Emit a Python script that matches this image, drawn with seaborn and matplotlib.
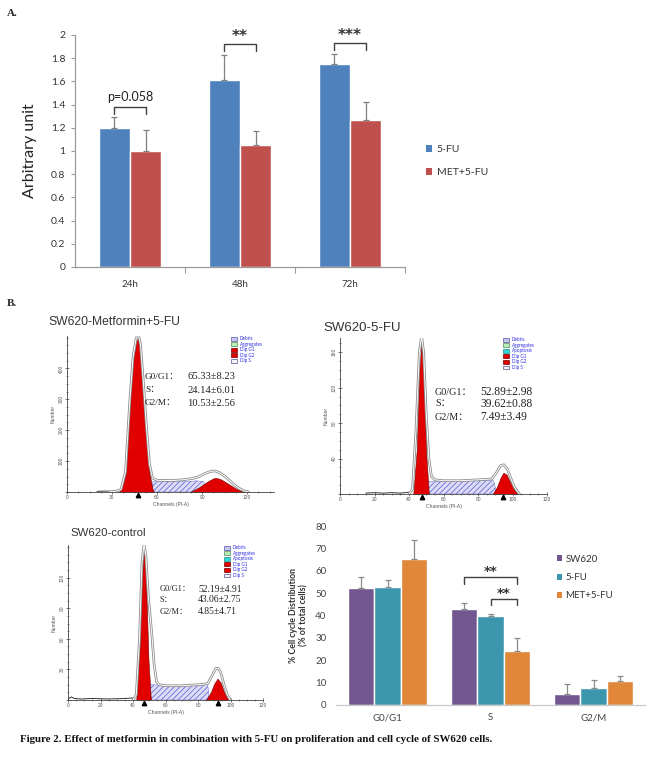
import numpy as np
import pandas as pd
import matplotlib
matplotlib.use("Agg")
import matplotlib.pyplot as plt
import matplotlib.transforms as mtransforms
from matplotlib.patches import Patch
from matplotlib.ticker import AutoMinorLocator, FixedLocator
import seaborn as sns

# ---------------- Panel A data ----------------
a_times = ["24h", "48h", "72h"]
a_groups = ["5-FU", "MET+5-FU"]
a_5fu = [1.20, 1.61, 1.75]
a_5fu_err = [0.09, 0.22, 0.09]
a_met = [1.00, 1.05, 1.27]
a_met_err = [0.18, 0.12, 0.15]
a_sig = ["p=0.058", "**", "***"]
a_yticks = [0, 0.2, 0.4, 0.6, 0.8, 1, 1.2, 1.4, 1.6, 1.8, 2]
a_yticklabels = ["0", "0.2", "0.4", "0.6", "0.8", "1", "1.2", "1.4", "1.6", "1.8", "2"]

# ---------------- Panel B bar data ----------------
b_phases = ["G0/G1", "S", "G2/M"]
b_groups = ["SW620", "5-FU", "MET+5-FU"]
b_sw620 = [52.19, 43.06, 4.85]
b_sw620_err = [4.91, 2.75, 4.71]
b_5fu = [52.89, 39.62, 7.49]
b_5fu_err = [2.98, 0.88, 3.49]
b_met = [65.33, 24.14, 10.53]
b_met_err = [8.23, 6.01, 2.56]
b_sig = ["**", "**"]
b_sig_pairs = [(0, 2), (1, 2)]
b_sig_levels = [57.0, 47.4]

# ---------------- Histogram data (channel, count) ----------------
# SW620-Metformin+5-FU
h1_tot_ch = [28, 33, 36, 39, 42, 44, 46, 47.5, 49, 51, 53, 55, 57, 60, 70, 78, 84, 88, 92, 96, 99, 102, 106, 110, 114, 118, 121]
h1_tot_n = [0, 3, 8, 65, 305, 435, 495, 512, 478, 350, 210, 90, 45, 38, 37, 40, 44, 50, 60, 67, 68, 62, 48, 30, 14, 4, 0]
h1_g1_ch = [35, 39, 42, 44, 46, 47.5, 49, 51, 53, 55, 57, 58]
h1_g1_n = [0, 55, 295, 425, 485, 500, 465, 330, 185, 60, 10, 0]
h1_s_ch = [56, 57, 70, 80, 86, 91, 93]
h1_s_n = [0, 33, 33, 34, 36, 34, 0]
h1_g2_ch = [82, 88, 94, 98, 100, 103, 108, 113, 118]
h1_g2_n = [0, 15, 35, 45, 45, 40, 25, 10, 0]
h1_base_ch = [20, 25, 30, 35]
h1_base_n = [2, 3, 2, 4]
h1_marks = [47.5]
h1_stats = ["65.33±8.23", "24.14±6.01", "10.53±2.56"]
h1_xticks = [0, 30, 60, 90, 120]
h1_yticks = [0, 100, 200, 300, 400]

# SW620-5-FU
h2_tot_ch = [40, 42, 44, 46, 47.3, 48.5, 50, 51.5, 53, 55, 60, 70, 80, 88, 91, 93, 95, 97, 99, 101, 104]
h2_tot_n = [0, 5, 70, 160, 178, 160, 90, 40, 20, 16, 15, 15, 16, 17, 25, 32, 33, 28, 18, 8, 0]
h2_g1_ch = [42.5, 44.5, 46, 47.3, 48.5, 50, 51.5]
h2_g1_n = [0, 50, 140, 173, 140, 45, 0]
h2_s_ch = [50, 51, 60, 70, 80, 89, 91]
h2_s_n = [0, 14, 14, 15, 15, 15, 0]
h2_g2_ch = [88.5, 91, 93, 94.7, 96.5, 98.5, 101, 103]
h2_g2_n = [0, 8, 18, 24, 22, 14, 5, 0]
h2_base_ch = [15, 20, 25, 30, 35, 40]
h2_base_n = [1, 1.5, 1, 1.5, 1, 2]
h2_marks = [47.3, 94.7]
h2_stats = ["52.89±2.98", "39.62±0.88", "7.49±3.49"]
h2_xticks = [0, 20, 40, 60, 80, 100, 120]
h2_yticks = [0, 40, 80, 120, 160]

# SW620-control
h3_tot_ch = [40, 42, 44, 45.5, 46.8, 48, 49.5, 51.5, 53, 54.5, 56, 60, 70, 80, 86, 89, 91, 92.5, 94, 96, 98, 100]
h3_tot_n = [0, 5, 60, 135, 153, 140, 100, 66, 35, 18, 15, 14, 14, 15, 16, 25, 31, 31, 27, 15, 5, 0]
h3_g1_ch = [42, 44, 45.5, 46.8, 48, 49.5, 51]
h3_g1_n = [0, 50, 120, 150, 120, 40, 0]
h3_s_ch = [48.5, 49.5, 60, 70, 80, 86, 87]
h3_s_n = [0, 15, 14.5, 14.5, 15, 15, 0]
h3_g2_ch = [85, 88, 90, 92, 94, 96, 98.6]
h3_g2_n = [0, 8, 16, 21, 17, 8, 0]
h3_base_ch = [0, 2, 4, 8, 15, 25, 35, 40]
h3_base_n = [1, 3, 1.5, 1, 1.5, 1, 1.5, 2]
h3_marks = [46.8, 92]
h3_stats = ["52.19±4.91", "43.06±2.75", "4.85±4.71"]
h3_xticks = [0, 20, 40, 60, 80, 100, 120]
h3_yticks = [0, 30, 60, 90, 120]

phase_labels = ["G0/G1：", "S：", "G2/M："]
legend_items_1 = ["Debris", "Aggregates", "Dip G1", "Dip G2", "Dip S"]
legend_items_2 = ["Debris", "Aggregates", "Apoptosis", "Dip G1", "Dip G2", "Dip S"]

# ---------------- Style ----------------
sns.set_style("white")
plt.rcParams["font.family"] = ["Lato", "DejaVu Sans"]
plt.rcParams["hatch.linewidth"] = 0.5

W, H = 653, 760
fig = plt.figure(figsize=(W / 100, H / 100), dpi=100)
fig.patch.set_facecolor("white")


def add_ax(l, t, r, b):
    return fig.add_axes([l / W, 1 - b / H, (r - l) / W, (b - t) / H])


def fx(x):
    return x / W


def fy(y):
    return 1 - y / H


SERIF = ["Liberation Serif", "Noto Sans CJK SC", "DejaVu Serif"]
ARIAL = ["Liberation Sans", "DejaVu Sans"]
STAR = ["DejaVu Sans"]

# ================= Panel A =================
colA = {"5-FU": "#4F81BD", "MET+5-FU": "#C0504D"}
dfA = pd.DataFrame({
    "time": a_times * 2,
    "group": [a_groups[0]] * 3 + [a_groups[1]] * 3,
    "value": a_5fu + a_met,
})
axA = add_ax(75, 35, 405, 267)
sns.barplot(data=dfA, x="time", y="value", hue="group", hue_order=a_groups,
            palette=colA, width=0.57, errorbar=None, saturation=1,
            legend=False, ax=axA)
errsA = [a_5fu_err, a_met_err]
valsA = [a_5fu, a_met]
barsA = [list(c) for c in axA.containers]
centersA = []
for ci, cont in enumerate(barsA):
    cs = []
    for i, bar in enumerate(cont):
        xc = bar.get_x() + bar.get_width() / 2
        cs.append(xc)
        axA.errorbar(xc, bar.get_height(), yerr=[[0], [errsA[ci][i]]], fmt="none",
                     ecolor="#7f7f7f", elinewidth=0.9, capsize=2.5, capthick=0.9)
    centersA.append(cs)
axA.set_ylim(0, 2)
axA.set_xlim(-0.5, 2.5)
axA.set_yticks(a_yticks)
axA.set_yticklabels(a_yticklabels)
axA.set_xlabel("")
axA.set_ylabel("Arbitrary unit", fontsize=11.5, color="#222222", labelpad=10)
for s in ["top", "right"]:
    axA.spines[s].set_visible(False)
for s in ["left", "bottom"]:
    axA.spines[s].set_color("#9a9a9a")
    axA.spines[s].set_linewidth(0.9)
axA.tick_params(axis="y", which="major", left=True, length=3, width=0.8, color="#9a9a9a",
                labelsize=7.5, labelcolor="#333333", pad=4)
axA.tick_params(axis="x", which="major", bottom=False, labelsize=7, labelcolor="#333333", pad=6)
axA.xaxis.set_minor_locator(FixedLocator([0.5, 1.5, 2.5]))
axA.tick_params(axis="x", which="minor", bottom=True, length=4, width=0.8, color="#9a9a9a")
for i in range(3):
    x1, x2 = centersA[0][i], centersA[1][i]
    top = max(valsA[0][i] + errsA[0][i], valsA[1][i] + errsA[1][i]) + 0.09
    axA.plot([x1, x1, x2, x2], [top - 0.06, top, top, top - 0.06], color="#404040",
             lw=1.0, clip_on=False)
    if a_sig[i].startswith("p"):
        axA.text((x1 + x2) / 2, top + 0.035, a_sig[i], ha="center", va="bottom",
                 fontsize=9, color="#222222", clip_on=False)
    else:
        axA.text((x1 + x2) / 2, top + 0.0, a_sig[i], ha="center", va="bottom",
                 fontsize=11, fontweight="bold", family=STAR, color="#333333", clip_on=False)
handlesA = [Patch(facecolor=colA[g], edgecolor="none") for g in a_groups]
fig.legend(handlesA, a_groups, loc="upper left", bbox_to_anchor=(fx(421), fy(140)),
           frameon=False, fontsize=7.5, handlelength=0.6, handleheight=0.6,
           handletextpad=0.4, labelspacing=1.35, borderpad=0, labelcolor="#333333")

fig.text(fx(7), fy(13), "A.", fontsize=8, family=SERIF, fontweight="bold", va="center")
fig.text(fx(7), fy(303), "B.", fontsize=8, family=SERIF, fontweight="bold", va="center")


# ================= Histograms =================
def draw_hist(box, tot_ch, tot_n, g1_ch, g1_n, s_ch, s_n, g2_ch, g2_n, base_ch, base_n,
              marks, xlim, ylim, xticks, yticks):
    ax = add_ax(*box)
    ax.fill_between(s_ch, s_n, facecolor="#dcdcf6", edgecolor="#5a5ad2", hatch="//////",
                    linewidth=0.3)
    ax.fill_between(g1_ch, g1_n, facecolor="#e10000", edgecolor="#700000", linewidth=0.4)
    ax.fill_between(g2_ch, g2_n, facecolor="#e10000", edgecolor="#700000", linewidth=0.4)
    sns.lineplot(x=base_ch, y=base_n, color="#333333", lw=0.7, ax=ax, sort=False)
    sns.lineplot(x=tot_ch, y=tot_n, color="#8c8c8c", lw=1.9, ax=ax, sort=False)
    sns.lineplot(x=tot_ch, y=tot_n, color="white", lw=0.7, ax=ax, sort=False)
    trans = mtransforms.blended_transform_factory(ax.transData, ax.transAxes)
    ax.plot(marks, [-0.022] * len(marks), linestyle="none", marker="^", markersize=3.2,
            color="black", transform=trans, clip_on=False)
    ax.set_xlim(*xlim)
    ax.set_ylim(*ylim)
    ax.set_xticks(xticks)
    ax.set_yticks(yticks)
    ax.xaxis.set_minor_locator(AutoMinorLocator(4))
    ax.yaxis.set_minor_locator(AutoMinorLocator(4))
    for s in ["top", "right"]:
        ax.spines[s].set_visible(False)
    for s in ["left", "bottom"]:
        ax.spines[s].set_color("#444444")
        ax.spines[s].set_linewidth(0.6)
    ax.tick_params(which="major", direction="inout", length=3, width=0.5, color="#444444",
                   labelsize=3.5, labelcolor="#555555", pad=1, left=True, bottom=True)
    ax.tick_params(which="minor", direction="inout", length=1.6, width=0.4, color="#444444",
                   left=True, bottom=True)
    ax.set_yticklabels([str(v) if v else "" for v in yticks], rotation=90, va="center",
                       family=ARIAL)
    ax.set_xticklabels([str(v) for v in xticks], family=ARIAL)
    ax.set_xlabel("Channels (PI-A)", fontsize=3.6, color="#555555", labelpad=1, family=ARIAL)
    ax.set_ylabel("Number", fontsize=3.6, color="#555555", labelpad=2, family=ARIAL)
    ax.set_facecolor("none")
    return ax


leg_colors = {"Debris": ("#c8c8ee", "#5555aa"), "Aggregates": ("#b6f0b6", "#558855"),
              "Apoptosis": ("#30d8d8", "#228888"), "Dip G1": ("#e10000", "#770000"),
              "Dip G2": ("#e10000", "#770000"), "Dip S": ("#f4f4ff", "#555588")}


def hist_legend(ax, items, x, y):
    hs = [Patch(facecolor=leg_colors[k][0], edgecolor=leg_colors[k][1], linewidth=0.5)
          for k in items]
    ax.legend(hs, items, loc="upper left", bbox_to_anchor=(fx(x), fy(y)),
              bbox_transform=fig.transFigure, frameon=False, fontsize=3.3,
              labelcolor="#2a2ae6", handlelength=1.3, handleheight=0.9,
              handletextpad=0.5, labelspacing=0.12, borderpad=0)


def stats_text(x_lab, x_val, ys, vals, size):
    for lab, val, y in zip(phase_labels, vals, ys):
        fig.text(fx(x_lab), fy(y), lab, fontsize=size * 0.88, family=SERIF, color="#222222",
                 va="center")
        fig.text(fx(x_val), fy(y), val, fontsize=size, family=SERIF, color="#222222",
                 va="center")


ax1 = draw_hist((67, 336, 274, 492), h1_tot_ch, h1_tot_n, h1_g1_ch, h1_g1_n, h1_s_ch, h1_s_n,
                h1_g2_ch, h1_g2_n, h1_base_ch, h1_base_n, h1_marks, (0, 138), (0, 505),
                h1_xticks, h1_yticks)
hist_legend(ax1, legend_items_1, 229, 334)
stats_text(145, 187, [377, 390, 403], h1_stats, 7.6)
fig.text(fx(48), fy(322), "SW620-Metformin+5-FU", fontsize=8.7, family=ARIAL,
         color="#333333", va="center")

ax2 = draw_hist((340, 338, 547, 494), h2_tot_ch, h2_tot_n, h2_g1_ch, h2_g1_n, h2_s_ch, h2_s_n,
                h2_g2_ch, h2_g2_n, h2_base_ch, h2_base_n, h2_marks, (0, 120), (0, 176),
                h2_xticks, h2_yticks)
hist_legend(ax2, legend_items_2, 501, 335)
stats_text(435, 480, [392, 404, 417], h2_stats, 8.3)
fig.text(fx(323), fy(328), "SW620-5-FU", fontsize=9.5, family=ARIAL, color="#333333",
         va="center")

ax3 = draw_hist((68, 545, 263, 700), h3_tot_ch, h3_tot_n, h3_g1_ch, h3_g1_n, h3_s_ch, h3_s_n,
                h3_g2_ch, h3_g2_n, h3_base_ch, h3_base_n, h3_marks, (0, 120), (0, 152),
                h3_xticks, h3_yticks)
hist_legend(ax3, legend_items_2, 222, 543)
stats_text(160, 198, [589, 600, 612], h3_stats, 6.9)
fig.text(fx(70), fy(533), "SW620-control", fontsize=8.2, family=ARIAL, color="#333333",
         va="center")

# ================= Panel B bar chart =================
colB = {"SW620": "#72568F", "5-FU": "#3C97AE", "MET+5-FU": "#E0873A"}
dfB = pd.DataFrame({
    "phase": b_phases * 3,
    "group": [b_groups[0]] * 3 + [b_groups[1]] * 3 + [b_groups[2]] * 3,
    "value": b_sw620 + b_5fu + b_met,
})
axB = add_ax(336, 526, 645, 705)
sns.barplot(data=dfB, x="phase", y="value", hue="group", hue_order=b_groups,
            palette=colB, width=0.76, errorbar=None, saturation=1, legend=False, ax=axB)
errsB = [b_sw620_err, b_5fu_err, b_met_err]
valsB = [b_sw620, b_5fu, b_met]
barsB = [list(c) for c in axB.containers]
centersB = []
for ci, cont in enumerate(barsB):
    cs = []
    for i, bar in enumerate(cont):
        xc = bar.get_x() + bar.get_width() / 2
        cs.append(xc)
        axB.errorbar(xc, bar.get_height(), yerr=[[0], [errsB[ci][i]]], fmt="none",
                     ecolor="#8a8a8a", elinewidth=0.9, capsize=2.3, capthick=0.9)
    centersB.append(cs)
axB.set_ylim(0, 80)
axB.set_xlim(-0.5, 2.5)
axB.set_yticks(range(0, 81, 10))
axB.set_xlabel("")
axB.set_ylabel("% Cell cycle Distribution\n(% of total cells)", fontsize=6.3,
               fontweight="bold", color="#333333", labelpad=5, linespacing=1.15)
for s in ["top", "right", "left"]:
    axB.spines[s].set_visible(False)
axB.spines["bottom"].set_color("#c8c8c8")
axB.spines["bottom"].set_linewidth(0.9)
axB.tick_params(axis="both", length=0, labelsize=7, labelcolor="#444444")
axB.tick_params(axis="y", pad=7)
axB.tick_params(axis="x", pad=6)
s_idx = b_phases.index("S")
for (g1, g2), lvl, txt in zip(b_sig_pairs, b_sig_levels, b_sig):
    x1, x2 = centersB[g1][s_idx], centersB[g2][s_idx]
    axB.plot([x1, x1, x2, x2], [lvl - 2.7, lvl, lvl, lvl - 2.7], color="#404040", lw=1.0)
    axB.text((x1 + x2) / 2, lvl - 0.3, txt, ha="center", va="bottom", fontsize=9.5,
             fontweight="bold", family=STAR, color="#333333")
handlesB = [Patch(facecolor=colB[g], edgecolor="none") for g in b_groups]
fig.legend(handlesB, b_groups, loc="upper left", bbox_to_anchor=(fx(552), fy(550)),
           frameon=False, fontsize=7, handlelength=0.55, handleheight=0.55,
           handletextpad=0.35, labelspacing=0.95, borderpad=0, labelcolor="#333333")

# ================= Caption =================
fig.text(fx(20), fy(740),
         "Figure 2. Effect of metformin in combination with 5-FU on proliferation and cell cycle of SW620 cells.",
         fontsize=7.8, family=SERIF, fontweight="bold", va="center", color="#111111")

fig.savefig("out.png", dpi=100, facecolor="white")
